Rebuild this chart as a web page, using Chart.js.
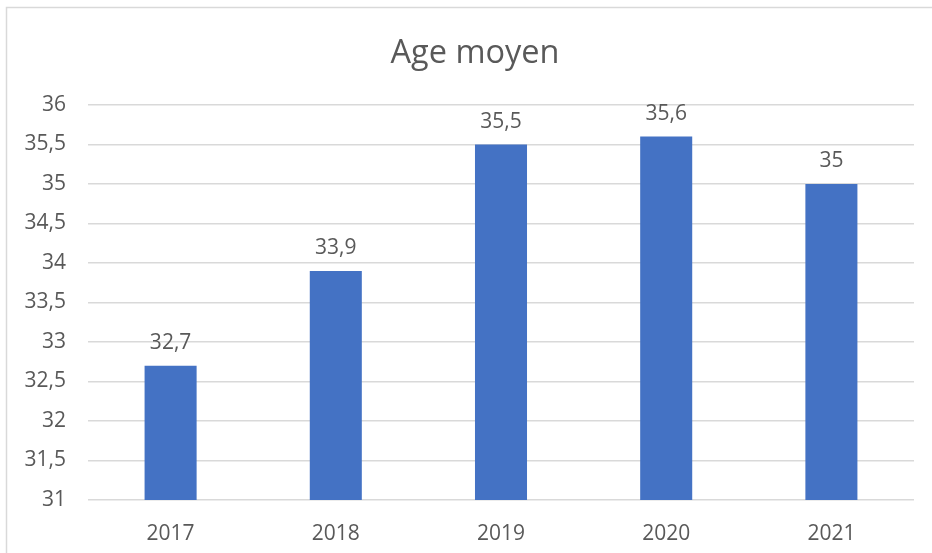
<!DOCTYPE html>
<html>
<head>
<meta charset="utf-8">
<script src="https://cdn.jsdelivr.net/npm/chart.js@4"></script>
<style>
  html, body { margin: 0; padding: 0; background: #ffffff; }
  #wrap { position: relative; width: 932px; height: 553px; }
</style>
</head>
<body>
<div id="wrap"><canvas id="c" width="932" height="553"></canvas></div>
<script>
const chartTitle = "Age moyen";
const categories = ["2017", "2018", "2019", "2020", "2021"];
const ageValues = [32.7, 33.9, 35.5, 35.6, 35];
const yMin = 31;
const yMax = 36;
const yStep = 0.5;

const fmt = v => String(Math.round(v * 10) / 10).replace(".", ",");
const textColor = "#595959";
const fontFamily = "'Open Sans', sans-serif";

const decorPlugin = {
  id: "decor",
  beforeDraw(chart) {
    const ctx = chart.ctx;
    ctx.save();
    ctx.fillStyle = "#ffffff";
    ctx.fillRect(0, 0, chart.width, chart.height);
    ctx.strokeStyle = "#d9d9d9";
    ctx.lineWidth = 1.5;
    ctx.strokeRect(6.5, 7.5, chart.width + 20, chart.height + 20);
    ctx.fillStyle = textColor;
    ctx.font = "32.5px " + fontFamily;
    ctx.textAlign = "center";
    ctx.textBaseline = "alphabetic";
    ctx.fillText(chartTitle, 475, 63);
    ctx.restore();
  },
  afterDatasetsDraw(chart) {
    const ctx = chart.ctx;
    const meta = chart.getDatasetMeta(0);
    ctx.save();
    ctx.fillStyle = textColor;
    ctx.font = "21px " + fontFamily;
    ctx.textAlign = "center";
    ctx.textBaseline = "alphabetic";
    meta.data.forEach((bar, i) => {
      ctx.fillText(fmt(chart.data.datasets[0].data[i]), bar.x, bar.y - 17);
    });
    ctx.restore();
  }
};

new Chart(document.getElementById("c"), {
  type: "bar",
  data: {
    labels: categories,
    datasets: [{
      label: chartTitle,
      data: ageValues,
      backgroundColor: "#4472C4",
      borderWidth: 0,
      categoryPercentage: 1,
      barPercentage: 0.315
    }]
  },
  options: {
    responsive: false,
    animation: false,
    devicePixelRatio: 1,
    layout: { padding: { top: 105, right: 18, bottom: 0, left: 0 } },
    plugins: {
      legend: { display: false },
      title: { display: false },
      tooltip: { enabled: false }
    },
    scales: {
      x: {
        afterFit(scale) { scale.height = 53; },
        grid: { display: false, drawTicks: false },
        border: { display: false },
        ticks: { color: textColor, font: { family: fontFamily, size: 21 }, padding: 21 }
      },
      y: {
        min: yMin,
        max: yMax,
        afterFit(scale) { scale.width = 88; },
        grid: { color: "#d9d9d9", lineWidth: 1.5, drawTicks: false },
        border: { display: false },
        ticks: {
          stepSize: yStep,
          color: textColor,
          font: { family: fontFamily, size: 21 },
          padding: 22,
          callback: v => fmt(v)
        }
      }
    }
  },
  plugins: [decorPlugin]
});
</script>
</body>
</html>
